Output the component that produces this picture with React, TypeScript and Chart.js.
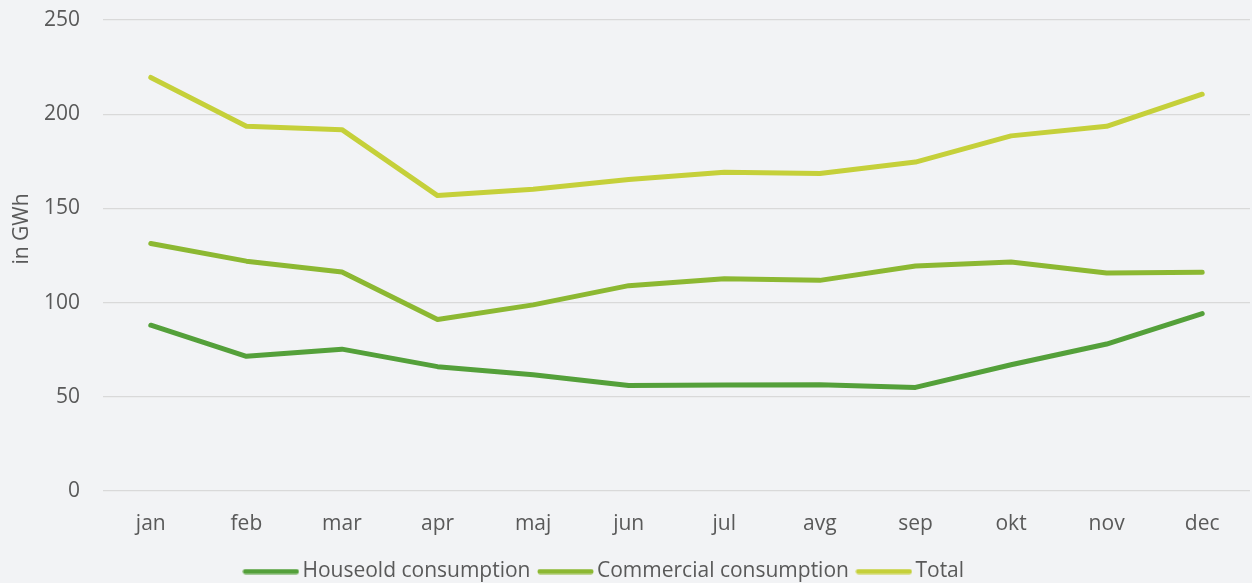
import React, { useEffect, useRef } from "react";
import { Chart, registerables } from "chart.js";

Chart.register(...registerables);

const months = ["jan", "feb", "mar", "apr", "maj", "jun", "jul", "avg", "sep", "okt", "nov", "dec"];
const household = [88, 71.5, 75.3, 66, 61.7, 56, 56.3, 56.4, 55, 67, 78, 94.2];
const commercial = [131.4, 122, 116.3, 91, 98.8, 109, 112.7, 111.8, 119.4, 121.6, 115.7, 116.1];
const total = [219.5, 193.6, 191.8, 156.8, 160.2, 165.3, 169.2, 168.5, 174.6, 188.5, 193.6, 210.6];
const seriesNames = ["Houseold consumption", "Commercial consumption", "Total"];
const yTicks = [0, 50, 100, 150, 200, 250];
const yTitle = "in GWh";

const colors = ["#54A03A", "#8CB832", "#C5D03A"];
const FONT = "'Open Sans', sans-serif";
const TEXT = "#595959";
const FS = 21;

function legendLine(color: string) {
  const c = document.createElement("canvas");
  c.width = 57;
  c.height = 6;
  const ctx = c.getContext("2d")!;
  ctx.strokeStyle = color;
  ctx.lineWidth = 5;
  ctx.lineCap = "round";
  ctx.beginPath();
  ctx.moveTo(3, 3);
  ctx.lineTo(54, 3);
  ctx.stroke();
  return c;
}

export default function App() {
  const ref = useRef<HTMLCanvasElement>(null);
  useEffect(() => {
    document.body.style.margin = "0";
    document.body.style.background = "#F2F3F5";
    const titlePlugin = {
      id: "ytitle",
      beforeDraw(chart: any) {
        if (chart.legend) chart.legend.left = -36;
      },
      afterDraw(chart: any) {
        const ctx = chart.ctx;
        ctx.save();
        ctx.translate(22, 229);
        ctx.rotate(-Math.PI / 2);
        ctx.font = `${FS}px ${FONT}`;
        ctx.fillStyle = TEXT;
        ctx.textAlign = "center";
        ctx.textBaseline = "middle";
        ctx.fillText(yTitle, 0, 0);
        ctx.restore();
      },
    };
    const images = colors.map(legendLine);
    const data = [household, commercial, total];
    const chart = new Chart(ref.current!, {
      type: "line",
      data: {
        labels: months,
        datasets: data.map((d, i) => ({
          label: seriesNames[i],
          data: d,
          borderColor: colors[i],
          backgroundColor: colors[i],
          borderWidth: 5,
          pointRadius: 0,
          pointHoverRadius: 0,
          tension: 0,
          borderCapStyle: "round" as const,
          borderJoinStyle: "round" as const,
        })),
      },
      options: {
        animation: false,
        responsive: false,
        maintainAspectRatio: false,
        layout: { padding: { top: 20, right: 2, left: 0, bottom: -9 } },
        plugins: {
          tooltip: { enabled: false },
          legend: {
            position: "bottom",
            labels: {
              font: { family: FONT, size: FS },
              color: TEXT,
              usePointStyle: true,
              pointStyleWidth: 42,
              boxHeight: 6,
              padding: 14,
              generateLabels(c: any) {
                const items = Chart.defaults.plugins.legend.labels.generateLabels(c);
                return items.map((it: any, i: number) => ({
                  ...it,
                  pointStyle: images[i],
                  lineWidth: 0,
                  strokeStyle: "transparent",
                }));
              },
            },
          },
        },
        scales: {
          x: {
            offset: true,
            grid: { display: false, drawTicks: false },
            border: { display: false },
            ticks: { font: { family: FONT, size: FS }, color: TEXT, padding: 20, maxRotation: 0 },
            afterFit(scale: any) {
              scale.height = 56;
            },
          },
          y: {
            min: 0,
            max: 250,
            afterBuildTicks(scale: any) {
              scale.ticks = yTicks.map((v) => ({ value: v }));
            },
            afterFit(scale: any) {
              scale.width = 103;
              scale.paddingTop = 0;
              scale.paddingBottom = 0;
            },
            grid: { color: "#D9D9D9", lineWidth: 1.3, drawTicks: false },
            border: { display: false },
            ticks: { font: { family: FONT, size: FS }, color: TEXT, padding: 23 },
          },
        },
      },
      plugins: [titlePlugin],
    });
    return () => chart.destroy();
  }, []);
  return (
    <div style={{ width: 1252, height: 583, background: "#F2F3F5" }}>
      <canvas ref={ref} width={1252} height={583} style={{ display: "block" }} />
    </div>
  );
}
